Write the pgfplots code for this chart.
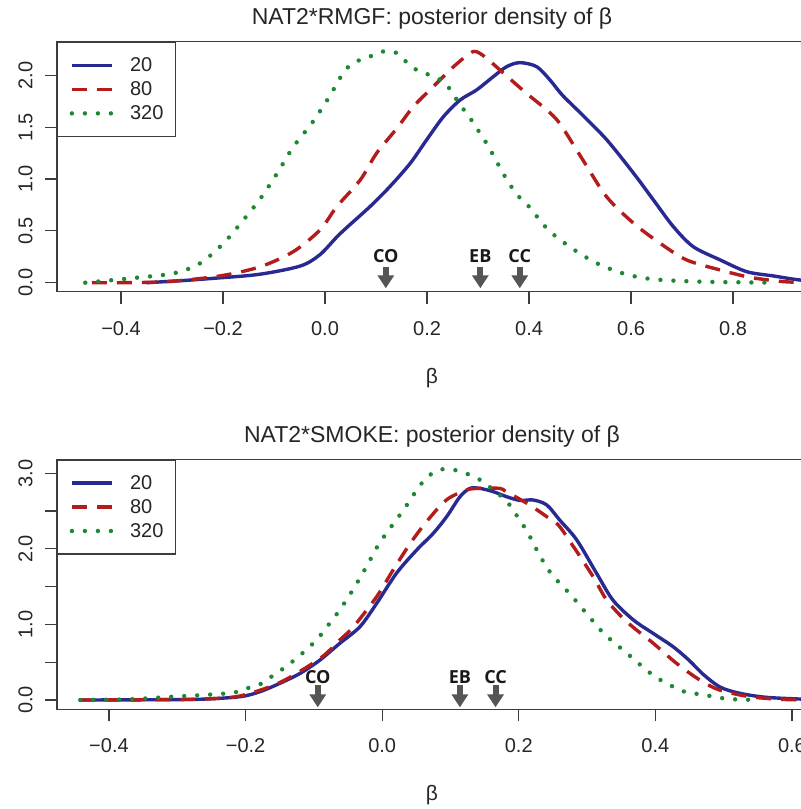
\documentclass[border=0pt]{standalone}
\usepackage{fontspec}
\setmainfont{Liberation Sans}
\newfontfamily\osans{Open Sans}
\usepackage{pgfplots}
\pgfplotsset{compat=1.18}
\usetikzlibrary{arrows.meta}
\definecolor{cblue}{RGB}{40,42,145}
\definecolor{cred}{RGB}{178,28,28}
\definecolor{cgreen}{RGB}{30,135,50}
\definecolor{axgray}{RGB}{60,60,60}
\definecolor{arrgray}{RGB}{85,85,85}

\pgfplotsset{
  common/.style={
    scale only axis, width=375pt, height=125pt,
    anchor=south west,
    axis line style={axgray, line width=0.7pt},
    tick style={axgray, line width=0.6pt},
    major tick length=6pt,
    tick align=outside, xtick pos=left, ytick pos=left,
    ticklabel style={font=\fontsize{10}{12}\selectfont, text=black!85},
    xticklabel style={anchor=north, inner sep=0pt, yshift=-8.5pt},
    yticklabel style={xshift=-6pt, rotate=90, anchor=south, inner sep=0pt},
    title style={at={(0.5,1)}, anchor=base, yshift=2.5pt, font=\fontsize{11.5}{13}\selectfont, text=black!85},
    xlabel style={at={(0.5,0)}, anchor=center, yshift=-43pt, font=\fontsize{10.5}{12}\selectfont, text=black!85},
    legend cell align=left,
    legend style={at={(0,1)}, anchor=north west, draw=axgray, line width=0.7pt, fill=white,
      inner xsep=6pt, inner ysep=5.5pt, row sep=0pt, column sep=8pt,
      font=\fontsize{10}{12}\selectfont,
      nodes={inner sep=0pt, text height=9.2pt, text depth=2.8pt, text=black!85}},
    legend image code/.code={\draw[##1] (0pt,0pt) -- (20pt,0pt);},
  },
  s20/.style={cblue, line width=1.7pt, smooth},
  s80/.style={cred, line width=1.7pt, smooth, dash pattern=on 7.5pt off 5pt},
  s320/.style={cgreen, line width=2.2pt, smooth, line cap=round, dash pattern=on 0pt off 6.5pt},
  arr/.style={arrgray, line width=3pt, quiver={u=0, v=\thisrow{v}}, -{Triangle[width=8pt,length=6.5pt]}, forget plot},
  lab/.style={draw=none, mark=none, forget plot, nodes near coords, point meta=explicit symbolic,
    nodes near coords style={anchor=center, inner sep=0pt, font=\fontsize{9}{10}\selectfont\osans\bfseries, text=black!90}},
}

\begin{document}
\begin{tikzpicture}
% ---------------- top panel ----------------
\begin{axis}[common, at={(28.5pt,-145.85pt)},
  xmin=-0.5255, xmax=0.945, ymin=-0.087, ymax=2.324,
  xtick={-0.4,-0.2,0,0.2,0.4,0.6,0.8},
  xticklabels={−0.4,−0.2,0.0,0.2,0.4,0.6,0.8},
  ytick={0,0.5,1,1.5,2},
  yticklabels={0.0,0.5,1.0,1.5,2.0},
  title={NAT2*RMGF: posterior density of β},
  xlabel={β}]
\addplot[s20] table {
x y
-0.35 0.00
-0.28 0.02
-0.219 0.042
-0.13 0.08
-0.049 0.16
-0.01 0.27
0.029 0.47
0.088 0.733
0.127 0.926
0.167 1.151
0.199 1.376
0.232 1.60
0.265 1.762
0.297 1.858
0.33 1.987
0.356 2.083
0.382 2.122
0.415 2.083
0.441 1.955
0.465 1.81
0.50 1.64
0.552 1.38
0.605 1.055
0.644 0.797
0.683 0.54
0.722 0.347
0.775 0.219
0.827 0.106
0.879 0.065
0.931 0.026
0.99 0.005
};
\addlegendentry{20}
\addplot[s80] table {
x y
-0.457 0.0
-0.40 0.0
-0.31 0.01
-0.206 0.065
-0.127 0.154
-0.062 0.30
-0.01 0.508
0.023 0.733
0.069 0.99
0.101 1.248
0.141 1.489
0.173 1.697
0.212 1.89
0.252 2.083
0.284 2.212
0.297 2.228
0.317 2.164
0.35 2.02
0.395 1.826
0.435 1.665
0.461 1.53
0.506 1.18
0.552 0.829
0.605 0.573
0.657 0.38
0.709 0.219
0.775 0.122
0.833 0.052
0.899 0.01
0.96 0.0
};
\addlegendentry{80}
\addplot[s320] table {
x y
-0.47 0.0
-0.382 0.042
-0.297 0.09
-0.245 0.187
-0.199 0.38
-0.16 0.605
-0.124 0.829
-0.092 1.07
-0.062 1.311
-0.026 1.537
0.0065 1.778
0.036 2.025
0.056 2.122
0.085 2.174
0.111 2.228
0.139 2.218
0.161 2.122
0.185 2.035
0.212 1.993
0.237 1.916
0.254 1.794
0.271 1.675
0.288 1.562
0.304 1.44
0.32 1.318
0.333 1.2
0.348 1.065
0.363 0.942
0.38 0.83
0.40 0.733
0.438 0.508
0.484 0.332
0.533 0.187
0.588 0.084
0.644 0.033
0.735 0.01
0.88 0.0
};
\addlegendentry{320}
\addplot[arr] table {
x y v
0.1192 0.154 -0.208
0.3045 0.154 -0.208
0.3818 0.154 -0.208
};
\addplot[lab] table[meta=lab] {
x y lab
0.1192 0.255 CO
0.3045 0.255 EB
0.3818 0.255 CC
};
\end{axis}
% ---------------- bottom panel ----------------
\begin{axis}[common, at={(28.5pt,-354.65pt)},
  xmin=-0.4761, xmax=0.622, ymin=-0.123, ymax=3.184,
  xtick={-0.4,-0.2,0,0.2,0.4,0.6},
  xticklabels={−0.4,−0.2,0.0,0.2,0.4,0.6},
  ytick={0,0.5,1,1.5,2,2.5,3},
  yticklabels={0.0,,1.0,,2.0,,3.0},
  title={NAT2*SMOKE: posterior density of β},
  xlabel={β}]
\addplot[s20] table {
x y
-0.442 0.0
-0.35 0.003
-0.267 0.01
-0.208 0.044
-0.179 0.11
-0.15 0.22
-0.12 0.353
-0.091 0.529
-0.062 0.75
-0.0325 0.97
-0.008 1.279
0.0212 1.68
0.0505 1.984
0.0748 2.205
0.0944 2.425
0.114 2.69
0.1286 2.80
0.143 2.80
0.163 2.755
0.182 2.69
0.2018 2.64
0.221 2.646
0.241 2.58
0.26 2.38
0.285 2.116
0.314 1.675
0.338 1.32
0.368 1.058
0.397 0.88
0.426 0.705
0.45 0.52
0.47 0.34
0.495 0.17
0.524 0.088
0.563 0.035
0.62 0.01
};
\addlegendentry{20}
\addplot[s80] table {
x y
-0.442 0.0
-0.35 0.003
-0.267 0.012
-0.21 0.05
-0.15 0.23
-0.091 0.55
-0.062 0.794
-0.042 0.97
-0.008 1.367
0.016 1.72
0.041 2.07
0.065 2.36
0.094 2.646
0.124 2.78
0.146 2.80
0.172 2.80
0.182 2.755
0.216 2.58
0.241 2.425
0.258 2.315
0.28 2.03
0.309 1.63
0.329 1.32
0.358 1.036
0.397 0.75
0.431 0.485
0.465 0.265
0.494 0.132
0.538 0.044
0.582 0.01
0.62 0.0
};
\addlegendentry{80}
\addplot[s320] table {
x y
-0.442 0.0
-0.37 0.01
-0.306 0.044
-0.262 0.066
-0.218 0.097
-0.198 0.154
-0.176 0.22
-0.159 0.33
-0.141 0.44
-0.124 0.564
-0.107 0.697
-0.092 0.837
-0.079 0.99
-0.065 1.155
-0.053 1.314
-0.041 1.486
-0.03 1.653
-0.019 1.83
-0.009 2.0
0.0026 2.16
0.0154 2.32
0.0285 2.48
0.0407 2.64
0.053 2.81
0.0675 2.96
0.0856 3.05
0.1076 3.04
0.1286 2.976
0.147 2.89
0.181 2.64
0.194 2.48
0.206 2.32
0.217 2.15
0.227 1.975
0.238 1.80
0.25 1.64
0.265 1.50
0.28 1.35
0.294 1.20
0.308 1.05
0.322 0.904
0.338 0.77
0.354 0.652
0.371 0.52
0.388 0.388
0.406 0.273
0.426 0.176
0.447 0.097
0.468 0.075
0.49 0.035
0.514 0.01
0.553 0.0
};
\addlegendentry{320}
\addplot[arr] table {
x y v
-0.0943 0.198 -0.295
0.1138 0.198 -0.295
0.166 0.198 -0.295
};
\addplot[lab] table[meta=lab] {
x y lab
-0.0943 0.31 CO
0.1138 0.31 EB
0.166 0.31 CC
};
\end{axis}
\pgfresetboundingbox
\useasboundingbox (0pt,0pt) rectangle (400.5pt,-404.5pt);
\end{tikzpicture}
\end{document}
